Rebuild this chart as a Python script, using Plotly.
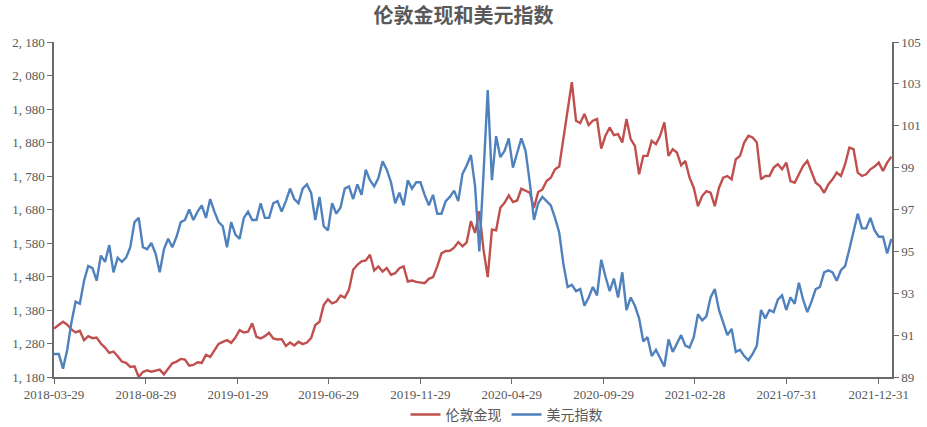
import pandas as pd
import plotly.graph_objects as go

title = "伦敦金现和美元指数"
gold_name = "伦敦金现"
dxy_name = "美元指数"

# weekly observations, first on 2018-03-29 then every Friday from 2018-04-06
gold = [
    # 2018
    1325, 1335, 1345, 1336, 1322, 1313, 1318, 1290, 1302, 1296,
    1298, 1280, 1268, 1252, 1256, 1242, 1226, 1222, 1210, 1212,
    1180, 1195, 1200, 1196, 1198, 1202, 1188, 1203, 1221, 1226,
    1234, 1232, 1214, 1216, 1224, 1222, 1246, 1240, 1258, 1279,
    # 2019
    1285, 1290, 1282, 1298, 1320, 1313, 1315, 1340, 1300, 1295,
    1302, 1312, 1295, 1292, 1293, 1273, 1283, 1274, 1285, 1278,
    1283, 1296, 1335, 1345, 1395, 1412, 1400, 1405, 1423, 1417,
    1440, 1500, 1515, 1525, 1528, 1545, 1498, 1510, 1495, 1505,
    1485, 1490, 1505, 1510, 1465, 1468, 1464, 1462, 1460, 1473,
    1478, 1510,
    # 2020
    1549, 1556, 1557, 1566, 1583, 1570, 1582, 1645, 1610, 1675,
    1560, 1478, 1620, 1618, 1685, 1700, 1722, 1702, 1707, 1742,
    1735, 1730, 1685, 1732, 1740, 1765, 1775, 1800, 1808, 1890,
    1975, 2060, 1945, 1938, 1965, 1932, 1945, 1950, 1862, 1900,
    1925, 1902, 1905, 1880, 1950, 1890, 1870, 1785, 1840, 1840,
    1885, 1875,
    # 2021
    1900, 1940, 1840, 1860, 1850, 1812, 1825, 1775, 1745, 1690,
    1720, 1735, 1730, 1690, 1745, 1775, 1780, 1770, 1830, 1840,
    1880, 1900, 1895, 1880, 1770, 1780, 1780, 1805, 1815, 1800,
    1820, 1765, 1760, 1785, 1810, 1825, 1795, 1760, 1750, 1730,
    1755, 1770, 1790, 1780, 1815, 1865, 1860, 1790, 1780, 1785,
    1800, 1808, 1820,
    # 2022
    1795, 1820, 1838,
]

dxy = [
    # 2018
    90.1, 90.1, 89.4, 90.3, 91.6, 92.6, 92.5, 93.6, 94.3, 94.2,
    93.6, 94.8, 94.5, 95.3, 94.0, 94.7, 94.5, 94.7, 95.2, 96.4,
    96.6, 95.2, 95.1, 95.4, 94.9, 94.0, 95.1, 95.6, 95.2, 95.7,
    96.4, 96.5, 97.0, 96.5, 96.9, 97.2, 96.6, 97.5, 96.9, 96.4,
    # 2019
    96.2, 95.2, 96.4, 95.8, 95.6, 96.6, 96.9, 96.5, 96.5, 97.3,
    96.6, 96.6, 97.3, 97.4, 96.9, 97.4, 98.0, 97.5, 97.3, 98.0,
    98.2, 97.8, 96.5, 97.6, 96.2, 96.0, 97.3, 96.8, 97.1, 98.0,
    98.1, 97.5, 98.2, 97.7, 98.9, 98.4, 98.1, 98.5, 99.3, 98.9,
    98.3, 97.3, 97.8, 97.2, 98.4, 98.0, 98.3, 98.3, 97.7, 97.2,
    97.7, 96.8,
    # 2020
    96.8, 97.4, 97.6, 97.9, 97.4, 98.7, 99.1, 99.6, 98.1, 95.0,
    98.7, 102.7, 98.4, 100.5, 99.5, 99.8, 100.4, 99.0, 99.7, 100.4,
    99.8, 98.3, 96.5, 97.3, 97.6, 97.4, 97.2, 96.6, 95.9, 94.4,
    93.3, 93.4, 93.1, 93.2, 92.4, 92.8, 93.3, 92.9, 94.6, 93.8,
    93.1, 93.7, 92.8, 94.0, 92.2, 92.8, 92.4, 91.8, 90.7, 90.9,
    90.0, 90.3,
    # 2021
    89.9, 89.5, 90.8, 90.2, 90.6, 91.0, 90.5, 90.4, 90.9, 92.0,
    91.7, 91.9, 92.8, 93.2, 92.2, 91.6, 91.0, 91.3, 90.2, 90.3,
    90.0, 89.8, 90.1, 90.5, 92.2, 91.8, 92.2, 92.1, 92.7, 92.9,
    92.2, 92.8, 92.5, 93.5, 92.7, 92.1, 92.6, 93.2, 93.3, 94.0,
    94.1, 94.0, 93.6, 94.1, 94.3, 95.1, 96.0, 96.8, 96.1, 96.1,
    96.6, 96.0, 95.7,
    # 2022
    95.7, 94.9, 95.6,
]

n = min(len(gold), len(dxy))
dates = [pd.Timestamp("2018-03-29")] + list(pd.date_range("2018-04-06", periods=n - 1, freq="7D"))

x_tick_vals = ["2018-03-29", "2018-08-29", "2019-01-29", "2019-06-29", "2019-11-29",
               "2020-04-29", "2020-09-29", "2021-02-28", "2021-07-31", "2021-12-31"]
left_tick_vals = [1180, 1280, 1380, 1480, 1580, 1680, 1780, 1880, 1980, 2080, 2180]
left_tick_text = ["1, 180", "1, 280", "1, 380", "1, 480", "1, 580", "1, 680",
                  "1, 780", "1, 880", "1, 980", "2, 080", "2, 180"]
right_tick_vals = [89, 91, 93, 95, 97, 99, 101, 103, 105]

RED = "#C0504D"
BLUE = "#4F81BD"
GREY = "#595959"
AXIS = "#6b6b6b"
TICKFONT = dict(family="Liberation Serif, DejaVu Serif, serif", size=13, color=GREY)

fig = go.Figure()
fig.add_trace(go.Scatter(x=dates[:n], y=gold[:n], name=gold_name, mode="lines",
                         line=dict(color=RED, width=2.4), yaxis="y"))
fig.add_trace(go.Scatter(x=dates[:n], y=dxy[:n], name=dxy_name, mode="lines",
                         line=dict(color=BLUE, width=2.4), yaxis="y2"))

fig.update_layout(
    width=927, height=427,
    margin=dict(l=54, r=35, t=42, b=50, autoexpand=False),
    paper_bgcolor="white", plot_bgcolor="white",
    title=dict(text="<b>" + title + "</b>", x=0.5, xanchor="center", y=0.962, yanchor="middle",
               font=dict(family="Noto Sans CJK SC, sans-serif", size=20, color=GREY)),
    showlegend=True,
    legend=dict(orientation="h", x=0.54, xanchor="center", y=-0.113, yanchor="middle",
                font=dict(family="Noto Sans CJK SC, sans-serif", size=14, color=GREY),
                itemwidth=30, bgcolor="rgba(0,0,0,0)"),
    xaxis=dict(type="date", range=["2018-03-29", "2022-01-22"],
               tickvals=x_tick_vals, ticktext=x_tick_vals,
               showgrid=False, zeroline=False, showline=True, linecolor=AXIS, linewidth=1.5,
               ticks="outside", ticklen=5, tickcolor=AXIS, tickfont=TICKFONT),
    yaxis=dict(range=[1180, 2180], tickvals=left_tick_vals, ticktext=left_tick_text,
               showgrid=False, zeroline=False, showline=True, linecolor=AXIS, linewidth=1.5,
               ticks="outside", ticklen=5, tickcolor=AXIS, tickfont=TICKFONT),
    yaxis2=dict(range=[89, 105], tickvals=right_tick_vals, overlaying="y", side="right",
                showgrid=False, zeroline=False, showline=True, linecolor=AXIS, linewidth=1.5,
                ticks="outside", ticklen=5, tickcolor=AXIS, tickfont=TICKFONT),
)

fig.write_html("out.html")
